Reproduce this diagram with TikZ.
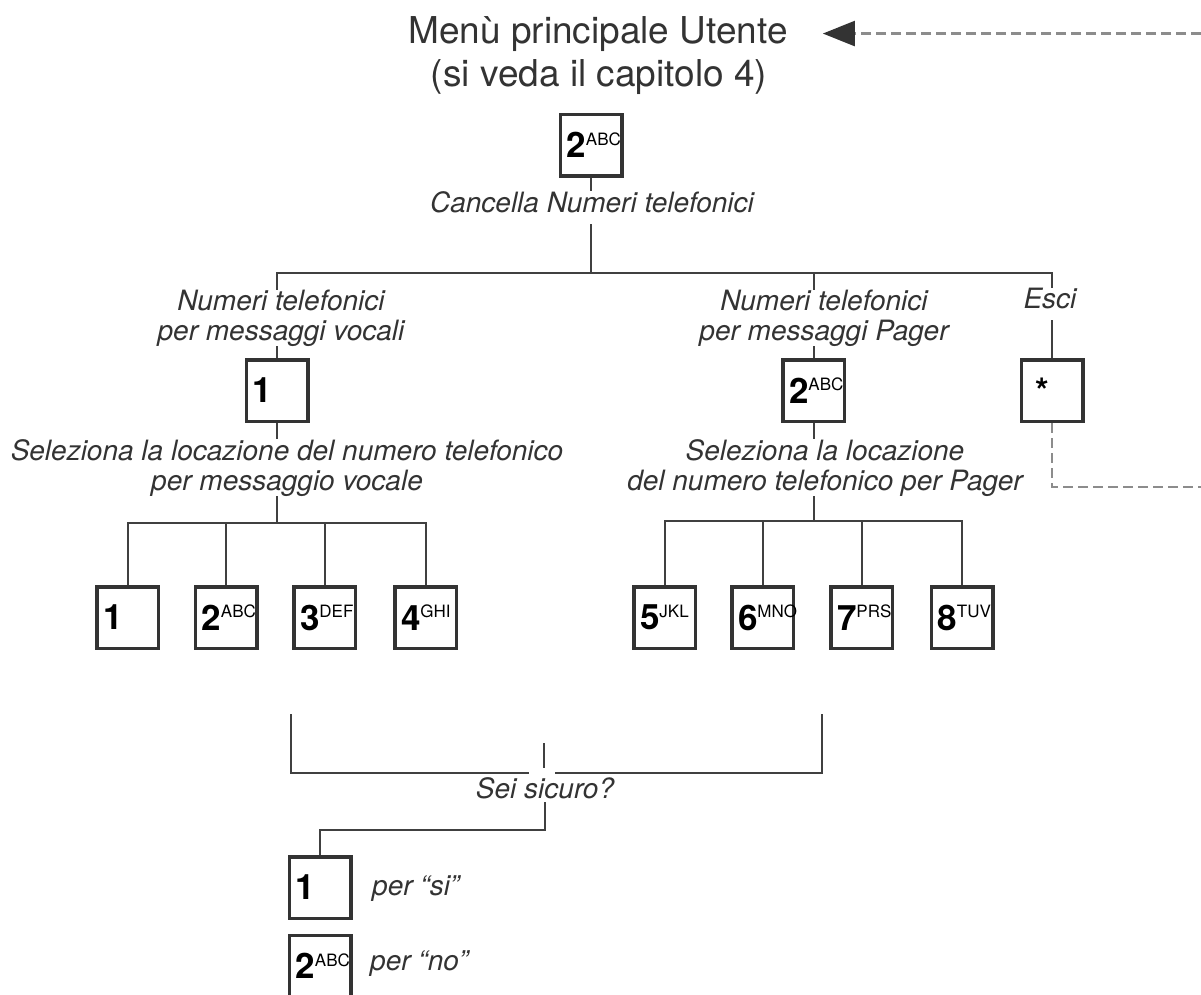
\documentclass[tikz,border=0pt]{standalone}
\usepackage{fontspec}
\setmainfont{TeX Gyre Heros}
\usetikzlibrary{arrows.meta}

\tikzset{
  keybox/.style={draw=black!80, line width=3.5pt, fill=white,
    minimum width=61.5pt, minimum height=61.5pt, inner xsep=4pt, inner ysep=0pt},
  menutext/.style={text=black!80, font=\fontsize{37}{43}\selectfont, inner sep=0pt},
  choice/.style={text=black!80, font=\fontsize{28}{30}\selectfont\itshape,
    align=center, inner sep=0pt, fill=white},
  link/.style={draw=black!75, line width=2pt},
  back/.style={draw=black!45, line width=2.5pt, dash pattern=on 10pt off 5pt},
}
\newcommand{\keycap}[2]{\makebox[49pt][l]{{\fontsize{35}{35}\selectfont\bfseries #1}%
  {\fontsize{17}{17}\selectfont\raisebox{12.7pt}{#2}}}}

\begin{document}
   \begin{tikzpicture}[x=1pt,y=-1pt]
      \useasboundingbox (0,0) rectangle (1201,994);

      \node[menutext, anchor=base, name=menu] at (598,43) {Menù principale Utente};
      \node[menutext, anchor=base, name=menuref] at (599,86) {(si veda il capitolo 4)};

      \node[keybox, name=kdel] at (591,145) {\keycap{2}{ABC}};
      \node[keybox, name=kvox] at (277,390.5) {\keycap{1}{}};
      \node[keybox, name=kpag] at (813.5,390.5) {\keycap{2}{ABC}};
      \node[keybox, name=kesc] at (1052,390.5) {\keycap{\hspace*{8pt}*\vphantom{1}}{}};

      \node[keybox, name=v1] at (127.5,617.5) {\keycap{1}{}};
      \node[keybox, name=v2] at (226,617.5) {\keycap{2}{ABC}};
      \node[keybox, name=v3] at (324.5,617.5) {\keycap{3}{DEF}};
      \node[keybox, name=v4] at (425.5,617.5) {\keycap{4}{GHI}};
      \node[keybox, name=p5] at (664.5,617.5) {\keycap{5}{JKL}};
      \node[keybox, name=p6] at (762.5,617.5) {\keycap{6}{MNO}};
      \node[keybox, name=p7] at (861.5,617.5) {\keycap{7}{PRS}};
      \node[keybox, name=p8] at (962,617.5) {\keycap{8}{TUV}};

      \node[keybox, name=ksi] at (320,887.5) {\keycap{1}{}};
      \node[keybox, name=kno] at (320,966) {\keycap{2}{ABC}};

      \coordinate (bar0) at (590,273);
      \coordinate (bar1) at (277,523);
      \coordinate (bar2) at (813,521);
      \coordinate (brl) at (291,714);
      \coordinate (brr) at (822,714);
      \coordinate (gapl) at (529,773);
      \coordinate (gapr) at (555,773);
      \coordinate (stub) at (544,743);
      \coordinate (turn) at (544,830);
      \coordinate (loopin) at (1201,34);
      \coordinate (loopout) at (1201,487);

      \draw[link] (kdel.south) -- (kdel.south |- bar0);
      \draw[link] (kvox.north) |- (bar0) -| (kesc.north);
      \draw[link] (kpag.north) -- (kpag.north |- bar0);

      \draw[link] (kvox.south) -- (kvox.south |- bar1);
      \draw[link] (v1.north) |- (bar1) -| (v4.north);
      \path[link]
         (v2.north) edge (v2.north |- bar1)
         (v3.north) edge (v3.north |- bar1);

      \draw[link] (kpag.south) -- (kpag.south |- bar2);
      \draw[link] (p5.north) |- (bar2) -| (p8.north);
      \path[link]
         (p6.north) edge (p6.north |- bar2)
         (p7.north) edge (p7.north |- bar2);

      \draw[link] (brl) |- (gapl);
      \draw[link] (gapr) -| (brr);
      \draw[link] (stub) -- ++(0,25);

      \draw[back] (kesc.south) |- (loopout);
      \draw[back, -{Triangle[length=32pt, width=25pt, color=black!80]}]
         (menu.east -| loopin) -- ([xshift=35pt]menu.east);

      \node[choice, anchor=base, text depth=12pt, name=del] at (592,212) {Cancella Numeri telefonici};
      \node[choice, anchor=base, name=vox] at (281,340) {Numeri telefonici\\per messaggi vocali};
      \node[choice, anchor=base, name=pag] at (824,340) {Numeri telefonici\\per messaggi Pager};
      \node[choice, anchor=base, text depth=12pt, name=esc] at (1050,308) {Esci};
      \node[choice, anchor=base, name=voxsel] at (287,490) {Seleziona la locazione del numero telefonico\\per messaggio vocale};
      \node[choice, anchor=base, name=pagsel] at (825,490) {Seleziona la locazione\\del numero telefonico per Pager};
      \node[choice, anchor=base, text depth=4pt, name=sure] at (545,798) {Sei sicuro?};

      \draw[link] (sure.south) -- (sure.south |- turn) -| (ksi.north);

      \node[choice, fill=none, anchor=base west, name=si] at (372,895) {per “si”};
      \node[choice, fill=none, anchor=base west, name=no] at (370,970) {per “no”};
   \end{tikzpicture}
\end{document}
